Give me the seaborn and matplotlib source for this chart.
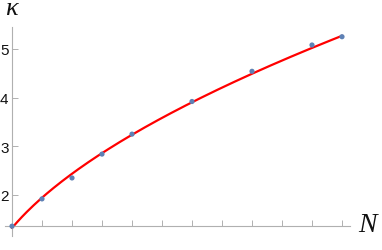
import numpy as np
import pandas as pd
import matplotlib
matplotlib.use("Agg")
import matplotlib.pyplot as plt
import seaborn as sns
from matplotlib.ticker import MultipleLocator, NullFormatter

# data
N_vals = [1, 2, 3, 4, 5, 7, 9, 11, 12]
kappa_vals = [1.36, 1.92, 2.35, 2.84, 3.25, 3.92, 4.54, 5.08, 5.25]
y_ticks = [2, 3, 4, 5]

df = pd.DataFrame({"N": N_vals, "kappa": kappa_vals})

# smooth fit through the points (red curve)
coef = np.polyfit(np.log(df["N"]), np.log(df["kappa"]), 1)
xs = np.linspace(min(N_vals), max(N_vals), 200)
fit = pd.DataFrame({"N": xs, "kappa": np.exp(np.polyval(coef, np.log(xs)))})

sns.set_style("white")
fig = plt.figure(figsize=(3.82, 2.51), dpi=100)
ax = fig.add_axes([5 / 382, (251 - 237) / 251, (350 - 5) / 382, (237 - 28) / 251])

sns.lineplot(data=fit, x="N", y="kappa", color="red", lw=1.6, ax=ax)
sns.scatterplot(data=df, x="N", y="kappa", color="#5E81B5", s=14, edgecolor="none",
                ax=ax, zorder=3)

ax.set_xlim(1 - 7 / 30, 1 + 338 / 30)
ax.set_ylim(2 - 41 / 48.7, 2 + 168 / 48.7)

for side in ["top", "right"]:
    ax.spines[side].set_visible(False)
ax.spines["left"].set_position(("data", 1))
ax.spines["bottom"].set_position(("data", kappa_vals[0]))
for side in ["left", "bottom"]:
    ax.spines[side].set_color("#b0b0b0")
    ax.spines[side].set_linewidth(0.8)

ax.set_yticks(y_ticks)
ax.yaxis.set_minor_locator(MultipleLocator(0.2))
ax.xaxis.set_major_locator(MultipleLocator(1))
ax.xaxis.set_minor_locator(MultipleLocator(0.5))
ax.xaxis.set_major_formatter(NullFormatter())
ax.tick_params(axis="both", which="major", direction="in", length=4, width=0.7,
               color="#b0b0b0", labelsize=11, labelcolor="#111111", pad=2.5)
ax.tick_params(axis="both", which="minor", direction="in", length=2.2, width=0.6,
               color="#b0b0b0")
ax.tick_params(left=True, bottom=True)
for lab in ax.get_yticklabels():
    lab.set_family("Liberation Sans")

ax.set_xlabel("")
ax.set_ylabel("")
fig.text(11.5 / 382, 1 - 15.5 / 251, "κ", fontsize=19, family="Liberation Serif",
         style="italic", ha="center", va="baseline", color="#111111")
fig.text(358 / 382, 1 - 226 / 251, "N", fontsize=20, family="Liberation Serif",
         style="italic", ha="left", va="center", color="#111111")

fig.savefig("out.png", dpi=100)
